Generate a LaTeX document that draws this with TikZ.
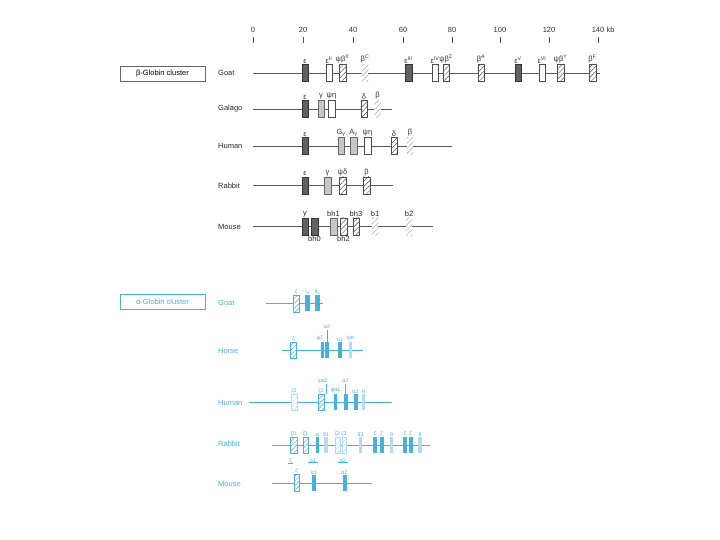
\documentclass[tikz,border=0pt]{standalone}
\usepackage{fontspec}
\setmainfont{Liberation Sans}
\usetikzlibrary{patterns.meta}
\definecolor{ablue}{RGB}{70,176,222}
\definecolor{alight}{RGB}{178,220,242}
\definecolor{bline}{RGB}{90,90,90}
\begin{document}
\begin{tikzpicture}[x=1pt,y=-1pt,
  g/.style={rectangle,inner sep=0pt,minimum width=6.5pt,minimum height=17pt,line width=0.5pt},
  gdark/.style={g,draw=black!80,fill=black!62},
  glight/.style={g,draw=black!60,fill=black!22},
  gwhite/.style={g,draw=black!70,fill=white},
  ghatch/.style={g,draw=black!70,preaction={fill=white},pattern={Lines[angle=45,distance=3.6pt,line width=0.5pt]},pattern color=black!65},
  gfaint/.style={g,preaction={fill=white},pattern={Lines[angle=45,distance=3.6pt,line width=0.6pt]},pattern color=black!30},
  blab/.style={font=\fontsize{7.5}{8}\selectfont,text=black!80,inner sep=0.8pt},
  mlab/.style={font=\fontsize{7.5}{8}\selectfont,text=black!85,inner sep=0.8pt},
  spec/.style={font=\fontsize{7.5}{8}\selectfont,text=black!85,anchor=west,inner sep=0pt},
  bl/.style={draw=bline,line width=0.6pt},
  clbox/.style={draw=black!60,line width=0.5pt,minimum width=85pt,minimum height=15pt,inner sep=0pt,font=\fontsize{7.5}{8}\selectfont},
  a/.style={rectangle,inner sep=0pt,minimum height=16pt,line width=0.5pt},
  asol/.style={a,minimum width=4pt,fill=ablue},
  alt/.style={a,minimum width=3.5pt,fill=alight},
  ahatch/.style={a,minimum width=6pt,draw=ablue,preaction={fill=white},pattern={Lines[angle=45,distance=3.4pt,line width=0.5pt]},pattern color=ablue},
  afaint/.style={a,minimum width=5pt,draw=alight,preaction={fill=white},pattern={Lines[angle=45,distance=3.4pt,line width=0.5pt]},pattern color=alight},
  alab/.style={font=\fontsize{5.3}{6}\selectfont,text=ablue,inner sep=0.5pt},
  aspec/.style={font=\fontsize{7.5}{8}\selectfont,text=ablue,anchor=west,inner sep=0pt},
  al/.style={draw=ablue,line width=0.6pt},
  aclbox/.style={draw=ablue,line width=0.5pt,minimum width=85pt,minimum height=15pt,inner sep=0pt,text=ablue,font=\fontsize{7.5}{8}\selectfont},
  sc/.style={font=\fontsize{7.5}{8}\selectfont,text=black!80,inner sep=0pt}
]
\useasboundingbox (0,0) rectangle (720,540);

% scale
\foreach \v/\x in {0/253,20/303,40/353,60/403,80/452,100/500,120/549,140/598}{
  \node[sc] (t\v) at (\x,30) {\v};
  \draw[black!70,line width=0.5pt] (\x,37) -- (\x,43);
}
\node[sc,anchor=west] (kb) at ([xshift=2pt]t140.east) {kb};

% beta cluster
\node[clbox] (bbox) at (162.5,73.5) {β-Globin cluster};

% Goat
\node[spec] (goat) at (218,73) {Goat};
\coordinate (gL) at (253,73); \coordinate (gR) at (600,73);
\draw[bl] (gL) -- (gR);
\node[gdark,label={[blab]above:ε}] (g1) at (305,73) {};
\node[gwhite,label={[blab]above:ε\textsuperscript{II}}] (g2) at (329,73) {};
\node[ghatch,label={[blab]above:ψβ\textsuperscript{X}}] (g3) at (342.5,73) {};
\node[gfaint,label={[blab]above:β\textsuperscript{C}}] (g4) at (365,73) {};
\node[gdark,label={[blab]above:ε\textsuperscript{III}}] (g5) at (408.5,73) {};
\node[gwhite,label={[blab]above:ε\textsuperscript{IV}}] (g6) at (435,73) {};
\node[ghatch,label={[blab]above:ψβ\textsuperscript{Z}}] (g7) at (446,73) {};
\node[ghatch,label={[blab]above:β\textsuperscript{A}}] (g8) at (481,73) {};
\node[gdark,label={[blab]above:ε\textsuperscript{V}}] (g9) at (518,73) {};
\node[gwhite,label={[blab]above:ε\textsuperscript{VI}}] (g10) at (542,73) {};
\node[ghatch,label={[blab]above:ψβ\textsuperscript{Y}}] (g11) at (560.5,73) {};
\node[ghatch,label={[blab]above:β\textsuperscript{F}}] (g12) at (592.5,73) {};

% Galago
\node[spec] (galago) at (218,109) {Galago};
\coordinate (gaL) at (253,109); \coordinate (gaR) at (392,109);
\draw[bl] (gaL) -- (gaR);
\node[gdark,label={[blab]above:ε}] (ga1) at (305,109) {};
\node[glight,label={[blab]above:γ}] (ga2) at (321,109) {};
\node[gwhite,label={[blab]above:ψη}] (ga3) at (331.5,109) {};
\node[ghatch,label={[blab]above:δ}] (ga4) at (364,109) {};
\node[gfaint,label={[blab]above:β}] (ga5) at (377.5,109) {};

% Human
\node[spec] (human) at (218,146) {Human};
\coordinate (hL) at (253,146); \coordinate (hR) at (452,146);
\draw[bl] (hL) -- (hR);
\node[gdark,label={[blab]above:ε}] (h1) at (305,146) {};
\node[glight,label={[blab]above:G\textsubscript{γ}}] (h2) at (341,146) {};
\node[glight,label={[blab]above:A\textsubscript{γ}}] (h3) at (353.5,146) {};
\node[gwhite,label={[blab]above:ψη}] (h4) at (367.5,146) {};
\node[ghatch,label={[blab]above:δ}] (h5) at (394,146) {};
\node[gfaint,label={[blab]above:β}] (h6) at (410,146) {};

% Rabbit
\node[spec] (rabbit) at (218,185.5) {Rabbit};
\coordinate (rL) at (253,185.5); \coordinate (rR) at (393,185.5);
\draw[bl] (rL) -- (rR);
\node[gdark,label={[blab]above:ε}] (r1) at (305,185.5) {};
\node[glight,label={[blab]above:γ}] (r2) at (327.5,185.5) {};
\node[ghatch,label={[blab]above:ψδ}] (r3) at (342.5,185.5) {};
\node[ghatch,label={[blab]above:β}] (r4) at (366.5,185.5) {};

% Mouse
\node[spec] (mouse) at (218,226.5) {Mouse};
\coordinate (mL) at (253,226.5); \coordinate (mR) at (433,226.5);
\draw[bl] (mL) -- (mR);
\node[gdark,label={[mlab]above:y}] (m1) at (305,226.5) {};
\node[gdark,label={[mlab]below:bh0}] (m2) at (314.5,226.5) {};
\node[glight,label={[mlab]above:bh1}] (m3) at (333.5,226.5) {};
\node[ghatch,label={[mlab]below:bh2}] (m4) at (343.5,226.5) {};
\node[ghatch,label={[mlab]above:bh3}] (m5) at (356,226.5) {};
\node[gfaint,label={[mlab]above:b1}] (m6) at (375,226.5) {};
\node[gfaint,label={[mlab]above:b2}] (m7) at (409,226.5) {};

% alpha cluster
\node[aclbox] (abox) at (162.5,301.5) {α-Globin cluster};

% Goat alpha
\node[aspec] (agoat) at (218,303) {Goat};
\coordinate (agL) at (266,303); \coordinate (agR) at (323,303);
\draw[al] (agL) -- (agR);
\node[ahatch,minimum height=17pt,label={[alab]above:ζ}] (ag1) at (296,303.5) {};
\node[asol,minimum width=5pt,label={[alab]above:I\textsubscript{α}}] (ag2) at (307.5,303) {};
\node[asol,minimum width=5pt,label={[alab]above:II\textsubscript{α}}] (ag3) at (317.5,303) {};

% Horse alpha
\node[aspec] (ahorse) at (218,351) {Horse};
\coordinate (ahL) at (282,350); \coordinate (ahR) at (363,350);
\draw[al] (ahL) -- (ahR);
\node[ahatch,label={[alab]above:ζ}] (ah1) at (293.5,350) {};
\node[asol,minimum width=3.5pt,label={[alab,anchor=south east,xshift=1pt]above:ψζ}] (ah2) at (322.5,350) {};
\node[asol] (ah3) at (327,350) {};
\node[alab] (ah3l) at (327,327) {α2};
\draw[ablue,line width=0.4pt] (ah3l.south) -- ([yshift=-1pt]ah3.north);
\node[asol,label={[alab]above:α1}] (ah4) at (340,350) {};
\node[alt,label={[alab]above:ψα}] (ah5) at (350.5,350) {};

% Human alpha
\node[aspec] (ahuman) at (218,403) {Human};
\coordinate (ahuL) at (249,402); \coordinate (ahuR) at (392,402);
\draw[al] (ahuL) -- (ahuR);
\node[afaint,minimum width=6pt,label={[alab]above:ζ2}] (ahu1) at (294,402.5) {};
\node[ahatch,label={[alab]above:ζ1}] (ahu2) at (321,402.5) {};
\node[alab] (ahu2l) at (323,381) {ψα2};
\draw[ablue,line width=0.4pt] (326,384) -- (326,394);
\node[asol,minimum width=3.5pt,label={[alab]above:ψα1}] (ahu3) at (335.5,402) {};
\node[asol] (ahu4) at (345.5,402) {};
\node[alab] (ahu4l) at (345.5,381) {α2};
\draw[ablue,line width=0.4pt] (ahu4l.south) -- ([yshift=-1pt]ahu4.north);
\node[asol,label={[alab]above:α1}] (ahu5) at (355.5,402) {};
\node[alt,label={[alab]above:θ}] (ahu6) at (363.5,402) {};

% Rabbit alpha
\node[aspec] (arabbit) at (218,444) {Rabbit};
\coordinate (arL) at (272,445); \coordinate (arR) at (430,445);
\draw[al] (arL) -- (arR);
\node[ahatch,minimum width=6.5pt,label={[alab]above:ζ0}] (ar1) at (293.5,445) {};
\node[ahatch,minimum width=5pt,label={[alab]above:ζ1}] (ar2) at (305.5,445) {};
\node[asol,minimum width=3.5pt,label={[alab]above:α}] (ar3) at (317.5,445) {};
\node[alt,label={[alab]above:θ1}] (ar4) at (326,445) {};
\node[afaint,label={[alab]above:ζ2}] (ar5) at (337.5,445) {};
\node[afaint,minimum width=4pt,label={[alab]above:ζ3}] (ar6) at (344,445) {};
\node[alt,label={[alab]above:θ3}] (ar7) at (360.5,445) {};
\node[asol,label={[alab]above:ζ}] (ar8) at (375,445) {};
\node[asol,label={[alab]above:ζ}] (ar9) at (381.5,445) {};
\node[alt,label={[alab]above:θ}] (ar10) at (391.5,445) {};
\node[asol,label={[alab]above:ζ}] (ar11) at (405,445) {};
\node[asol,label={[alab]above:ζ}] (ar12) at (410.5,445) {};
\node[alt,label={[alab]above:θ}] (ar13) at (420,445) {};
\node[alab] (arb1) at (290.5,461) {ζ};
\node[alab] (arb2) at (313,461) {α1};
\node[alab] (arb3) at (343,461) {α2};
\foreach \n in {arb1,arb2,arb3}{
  \draw[ablue,line width=0.4pt] ([xshift=-1pt,yshift=1pt]\n.south west) -- ([xshift=1pt,yshift=1pt]\n.south east);
}

% Mouse alpha
\node[aspec] (amouse) at (218,484) {Mouse};
\coordinate (amL) at (272,483); \coordinate (amR) at (372,483);
\draw[al] (amL) -- (amR);
\node[ahatch,minimum width=5pt,minimum height=17pt,label={[alab]above:ζ}] (am1) at (296.5,483) {};
\node[asol,label={[alab]above:α1}] (am2) at (314,483) {};
\node[asol,label={[alab]above:α2}] (am3) at (344.5,483) {};
\end{tikzpicture}
\end{document}
